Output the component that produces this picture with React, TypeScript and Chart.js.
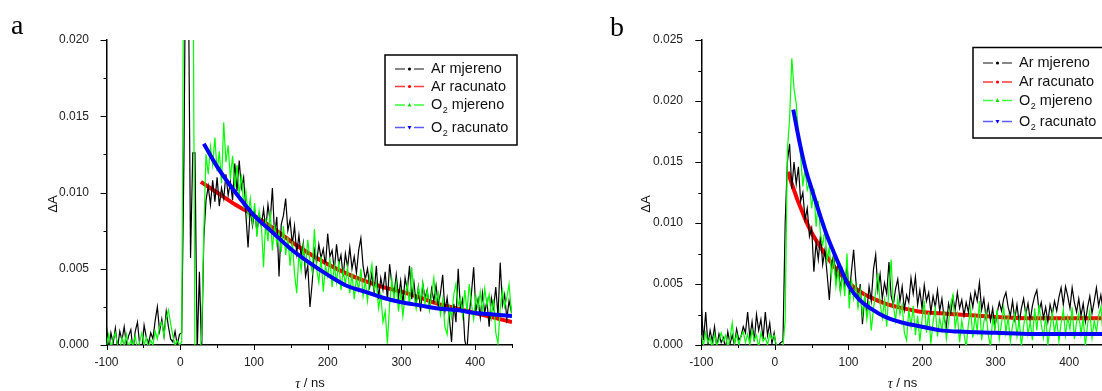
import React, { useEffect, useRef } from "react";
import { Chart, registerables } from "chart.js";

Chart.register(...registerables);

// ---------- data ----------
const TIME = [
  -100, -97, -94, -91, -88, -85, -82, -79, -76, -73,
  -70, -67, -64, -61, -58, -55, -52, -49, -46, -43,
  -40, -37, -34, -31, -28, -25, -22, -19, -16, -13,
  -10, -7, -4, -1, 2, 5, 8, 11, 14, 17,
  20, 23, 26, 29, 32, 35, 38, 41, 44, 47,
  50, 53, 56, 59, 62, 65, 68, 71, 74, 77,
  80, 83, 86, 89, 92, 95, 98, 101, 104, 107,
  110, 113, 116, 119, 122, 125, 128, 131, 134, 137,
  140, 143, 146, 149, 152, 155, 158, 161, 164, 167,
  170, 173, 176, 179, 182, 185, 188, 191, 194, 197,
  200, 203, 206, 209, 212, 215, 218, 221, 224, 227,
  230, 233, 236, 239, 242, 245, 248, 251, 254, 257,
  260, 263, 266, 269, 272, 275, 278, 281, 284, 287,
  290, 293, 296, 299, 302, 305, 308, 311, 314, 317,
  320, 323, 326, 329, 332, 335, 338, 341, 344, 347,
  350, 353, 356, 359, 362, 365, 368, 371, 374, 377,
  380, 383, 386, 389, 392, 395, 398, 401, 404, 407,
  410, 413, 416, 419, 422, 425, 428, 431, 434, 437,
  440, 443, 446, 449, 452,
];

// panel a – Ar measured
const AR_A = [
  0.0012, -0.0003, 0.0008, 0.0001, 0.0011, -0.0002, 0.0009, 0.0003, 0.0012, 0.0,
  0.0006, 0.001, -0.0004, 0.0009, 0.0015, 0.0, -0.0003, 0.0013, 0.0005, 0.0001,
  0.0008, 0.0004, 0.0016, 0.0025, 0.0009, 0.0017, 0.0006, 0.0022, 0.0012, 0.0004,
  0.0002, 0.0009, 0.0, 0.0007, 0.0008, 0.012, 0.03, 0.025, 0.0057, 0.0126,
  0.0126, -0.0005, 0.0048, -0.0005, 0.007, 0.0095, 0.0104, 0.0092, 0.0108, 0.0094,
  0.011, 0.0091, 0.0103, 0.0096, 0.0112, 0.0098, 0.0107, 0.0095, 0.0119, 0.0101,
  0.0121, 0.0103, 0.011, 0.0086, 0.0064, 0.009, 0.0078, 0.0088, 0.0074, 0.0085,
  0.0078, 0.0089, 0.0076, 0.0092, 0.0081, 0.0103, 0.0072, 0.0084, 0.0045, 0.0079,
  0.0085, 0.0096, 0.0075, 0.0082, 0.0066, 0.0078, 0.006, 0.0072, 0.0058, 0.0067,
  0.0045, 0.0052, 0.0025, 0.0041, 0.0062, 0.0054, 0.0066, 0.0057, 0.0063, 0.0052,
  0.0073, 0.0058, 0.0062, 0.0049, 0.0066, 0.0053, 0.0059, 0.0045, 0.006, 0.0051,
  0.0064, 0.005, 0.0058, 0.0047, 0.0062, 0.007, 0.0052, 0.0043, 0.005, 0.0038,
  0.0047, 0.0034, 0.0052, 0.003, 0.0044, 0.0036, 0.0048, 0.0029, 0.0053, 0.004,
  0.0033, 0.0046, 0.0031, 0.0042, 0.0027, 0.0044, 0.0036, 0.0052, 0.003, 0.0041,
  0.0027, 0.0038, 0.0022, 0.004, 0.0031, 0.0036, 0.0024, 0.0037, 0.0029, 0.0039,
  0.0026, 0.0034, 0.0046, 0.0022, 0.0031, 0.0018, 0.0002, 0.0027, 0.0015, 0.005,
  0.0024, 0.003, 0.0003, -0.0003, 0.002, 0.0034, 0.0051, 0.0022, 0.003, 0.0018,
  0.0034, 0.0021, 0.0029, 0.0012, 0.0031, 0.0024, 0.0038, 0.0019, 0.0054, 0.0026,
  0.0033, 0.0017, 0.0029, 0.0022, 0.0027,
];

// panel a – O2 measured
const O2_A = [
  0.0, 0.0007, -0.0002, 0.0004, 0.0008, 0.0, -0.0003, 0.0005, 0.0, 0.0007,
  -0.0002, 0.0003, 0.0, 0.0006, -0.0004, 0.0002, 0.0008, 0.0, 0.0005, -0.0002,
  0.0003, 0.0, 0.0009, 0.0004, 0.0012, 0.0015, 0.0006, 0.0018, 0.0023, 0.0014,
  0.0006, 0.0, 0.0003, 0.0, 0.0002, 0.03, 0.025, 0.022, 0.03, 0.03,
  -0.001, -0.001, -0.0008, 0.0005, 0.0075, 0.0125, 0.0112, 0.013, 0.0118, 0.0136,
  0.0114, 0.0127, 0.0106, 0.0146, 0.012, 0.0131, 0.0109, 0.0124, 0.0103, 0.0118,
  0.0098, 0.0112, 0.0092, 0.0101, 0.0085, 0.0096, 0.008, 0.0093, 0.0071, 0.0088,
  0.0079, 0.0051, 0.0083, 0.0068, 0.0088, 0.0062, 0.0079, 0.0066, 0.0074, 0.0061,
  0.0078, 0.0059, 0.0071, 0.0052, 0.0068, 0.0047, 0.0034, 0.006, 0.0049, 0.0065,
  0.0052, 0.0069, 0.0055, 0.0048, 0.0076, 0.005, 0.0041, 0.0058, 0.0035, 0.0052,
  0.0045, 0.0057, 0.0038, 0.0052, 0.0041, 0.0055, 0.0036, 0.0049, 0.004, 0.0051,
  0.0034, 0.0047, 0.003, 0.0044, 0.0036, 0.005, 0.0032, 0.0042, 0.0029, 0.0045,
  0.0053, 0.0036, 0.0041, 0.0024, 0.0033, 0.0015, 0.0022, 0.0001, 0.0027, 0.0043,
  0.003, 0.0041, 0.0022, 0.0035, 0.0019, 0.0032, 0.004, 0.0026, 0.0051, 0.0033,
  0.0024, 0.0038, 0.0029, 0.0041, 0.0027, 0.0036, 0.0023, 0.0033, 0.0044, 0.0028,
  0.0034, 0.002, 0.003, 0.0012, 0.0007, 0.0025, 0.0018, 0.0033, 0.004, 0.0026,
  0.0031, 0.0019, 0.0036, 0.0022, 0.004, 0.0027, 0.0017, 0.0032, 0.0024, 0.0035,
  0.0021, 0.0037, 0.0026, 0.0033, 0.0018, 0.003, 0.0008, 0.0001, 0.0024, 0.0036,
  0.0025, 0.0031, 0.004, 0.0022, 0.003,
];

// panel a – fits
const AR_FIT_A_T = [28, 50, 75, 100, 125, 150, 175, 200, 225, 250, 275, 300, 325, 350, 375, 400, 425, 450];
const AR_FIT_A = [0.0107, 0.01, 0.0092, 0.0085, 0.0077, 0.0068, 0.006, 0.0053, 0.0047, 0.0042, 0.0038, 0.0035, 0.0031, 0.0027, 0.0024, 0.0021, 0.0018, 0.0015];
const O2_FIT_A_T = [32, 50, 75, 100, 125, 150, 175, 200, 225, 250, 275, 300, 325, 350, 375, 400, 425, 450];
const O2_FIT_A = [0.0132, 0.0117, 0.01, 0.0085, 0.0074, 0.0063, 0.0054, 0.0046, 0.0039, 0.0035, 0.0031, 0.0028, 0.0026, 0.0024, 0.0023, 0.0021, 0.002, 0.0019];

// panel b – Ar measured
const AR_B = [
  0.0031, 0.0004, 0.0027, 0.0, 0.0012, 0.0003, 0.0015, -0.0002, 0.0009, 0.0002,
  0.0006, -0.0003, 0.0011, 0.0001, 0.0008, 0.0, 0.0013, 0.0004, 0.0007, 0.0015,
  0.001, 0.0027, 0.0006, 0.0019, 0.0003, 0.0025, 0.0012, 0.0021, 0.0005, 0.0027,
  0.0008, 0.0018, 0.0001, 0.001, -0.0003, 0.0, 0.0002, 0.0003, 0.01, 0.015,
  0.0165, 0.0128, 0.015, 0.0132, 0.0146, 0.0118, 0.0125, 0.0103, 0.0112, 0.0089,
  0.0096, 0.006, 0.0084, 0.007, 0.009, 0.0066, 0.0078, 0.0058, 0.0037, 0.0064,
  0.0075, 0.0052, 0.0068, 0.0044, 0.0061, 0.0049, 0.0066, 0.0041, 0.006, 0.0078,
  0.0053, 0.0034, 0.005, 0.0017, 0.0039, 0.0028, 0.0048, 0.0036, 0.0062, 0.0074,
  0.0045, 0.0058, 0.0038, 0.0051, 0.0042, 0.0068, 0.004, 0.0033, 0.0046, 0.0054,
  0.0036, 0.0048, 0.0029, 0.0041, 0.0035, 0.0055, 0.0042, 0.0056, 0.0033, 0.0045,
  0.003, 0.0049, 0.0036, 0.0043, 0.0027, 0.004, 0.0031, 0.0045, 0.0028, 0.0038,
  0.0022, 0.0015, 0.0034, 0.0026, 0.0039, 0.0029, 0.0043, 0.003, 0.0037, 0.0024,
  0.0035, 0.0027, 0.0041, 0.0031, 0.0044, 0.0036, 0.0051, 0.0029, 0.0038, 0.0022,
  0.0033, 0.002, 0.003, 0.0014, 0.0026, 0.0035, 0.0028, 0.0038, 0.0043, 0.0031,
  0.0024, 0.0036, 0.0021, 0.0033, 0.0018, 0.003, 0.0038, 0.0025, 0.0034, 0.002,
  0.0032, 0.004, 0.0045, 0.0028, 0.0035, 0.0022, 0.0031, 0.0019, 0.0033, 0.0025,
  0.0036, 0.0028, 0.0039, 0.0047, 0.0033, 0.0048, 0.004, 0.003, 0.0047, 0.0035,
  0.0027, 0.0038, 0.0024, 0.0034, 0.0019, 0.0031, 0.004, 0.0026, 0.0036, 0.0047,
  0.0032, 0.0041, 0.0028, 0.0036, 0.003,
];

// panel b – O2 measured
const O2_B = [
  0.0008, 0.0, 0.001, 0.0002, 0.0006, -0.0003, 0.0009, 0.0, 0.0004, 0.001,
  0.0003, 0.0008, -0.0002, 0.0005, 0.0018, 0.0001, 0.0009, 0.0, 0.0007, 0.0011,
  0.0002, 0.0009, 0.0, 0.0012, 0.0004, 0.0008, -0.0002, 0.001, 0.0003, 0.0006,
  0.0, 0.0009, 0.0005, 0.0008, 0.0, -0.0003, -0.0002, -0.0001, 0.002, 0.016,
  0.0185, 0.0235, 0.021, 0.0198, 0.0172, 0.0155, 0.013, 0.0145, 0.0127, 0.0133,
  0.0112, 0.0128, 0.0097, 0.0118, 0.009, 0.0082, 0.0095, 0.0069, 0.008, 0.0058,
  0.0071, 0.0048, 0.0062, 0.0043, 0.0058, 0.004, 0.0075, 0.003, 0.0054, 0.0038,
  0.0049, 0.0031, 0.0045, 0.0025, 0.004, 0.0021, 0.0036, 0.0012, 0.003, 0.0043,
  0.0059, 0.0034, 0.0022, 0.0037, 0.0015, 0.0046, 0.007, 0.0032, 0.002, 0.0038,
  0.0025, 0.0033, 0.001, 0.0004, 0.0029, 0.0015, 0.0032, 0.0008, 0.0024, 0.0003,
  0.0021, 0.0036, 0.001, 0.0027, 0.0001, 0.0019, 0.003, 0.0007, 0.0022, 0.0012,
  0.0028, 0.0005, 0.0018, 0.0034, 0.0041, 0.0014, 0.0025, 0.0002, 0.002, 0.0009,
  -0.0002, 0.0017, 0.003, 0.0006, 0.0024, 0.0011, 0.0036, 0.0004, 0.0019, 0.0027,
  0.0008, -0.0001, 0.0022, 0.0013, 0.0029, 0.0005, 0.0018, 0.0031, 0.001, 0.0023,
  0.0003, 0.0016, 0.0026, 0.0007, 0.0021, -0.0001, 0.0015, 0.0028, 0.0009, 0.0019,
  0.0004, 0.003, 0.0012, 0.0033, 0.0017, 0.0006, 0.0024, 0.0, 0.0014, 0.0027,
  0.001, 0.0021, 0.0003, 0.0018, 0.0029, 0.0008, 0.0023, 0.0013, 0.0031, 0.0005,
  0.0019, 0.0026, 0.0009, 0.0022, -0.0001, 0.0017, 0.0028, 0.0006, 0.002, 0.0011,
  0.0024, 0.0031, 0.0008, 0.0019, 0.0014,
];

// panel b – fits
const AR_FIT_B_T = [18, 22, 26, 30, 34, 42, 50, 60, 70, 85, 100, 115, 130, 150, 175, 200, 225, 250, 300, 350, 400, 450];
const AR_FIT_B = [0.0142, 0.0134, 0.0127, 0.012, 0.0114, 0.0102, 0.0092, 0.0082, 0.0073, 0.0061, 0.0051, 0.0044, 0.0039, 0.0034, 0.003, 0.0027, 0.0026, 0.0025, 0.0023, 0.0022, 0.0022, 0.0022];
const O2_FIT_B_T = [25, 30, 35, 41, 50, 60, 70, 80, 90, 100, 115, 130, 150, 175, 200, 225, 250, 300, 350, 400, 450];
const O2_FIT_B = [0.0193, 0.0177, 0.0162, 0.0146, 0.0128, 0.0109, 0.0091, 0.0076, 0.0062, 0.0049, 0.0037, 0.003, 0.0023, 0.0018, 0.0015, 0.0012, 0.0011, 0.001, 0.0009, 0.0009, 0.0009];

const X_MIN = -100;
const X_MAX = 450;
const X_STEP = 100;
const Y_STEP = 0.005;
const Y_MAX_A = 0.02;
const Y_MAX_B = 0.025;

const LEGEND_ITEMS = [
  { main: "Ar mjereno", sub: "", rest: "", line: "#606060", mark: "#000000", shape: "circle" },
  { main: "Ar racunato", sub: "", rest: "", line: "#ff3a3a", mark: "#ff0000", shape: "circle" },
  { main: "O", sub: "2", rest: " mjereno", line: "#3cff3c", mark: "#00dd00", shape: "up" },
  { main: "O", sub: "2", rest: " racunato", line: "#5a5aff", mark: "#0000ff", shape: "down" },
];

// ---------- layout ----------
const W = 560;
const H = 391;
const SANS = '"Liberation Sans", Arial, Helvetica, sans-serif';
const SERIF = '"Liberation Serif", "Times New Roman", serif';

type Panel = {
  letter: string;
  yMax: number;
  ar: number[];
  o2: number[];
  arFitT: number[];
  arFit: number[];
  o2FitT: number[];
  o2Fit: number[];
  area: { left: number; right: number; top: number; bottom: number };
  yLabelRight: number;
  legend: { x: number; y: number; w: number; h: number; rows: number[] };
  letterPos: { x: number; y: number };
  yTitle: { x: number; y: number };
  xTitle: { x: number; y: number };
};

const PANEL_A: Panel = {
  letter: "a",
  yMax: Y_MAX_A,
  ar: AR_A,
  o2: O2_A,
  arFitT: AR_FIT_A_T,
  arFit: AR_FIT_A,
  o2FitT: O2_FIT_A_T,
  o2Fit: O2_FIT_A,
  area: { left: 106.5, right: 512, top: 40, bottom: 345 },
  yLabelRight: 97,
  legend: { x: 385, y: 55, w: 132, h: 90, rows: [14, 31.5, 50, 72.5] },
  letterPos: { x: 11, y: 34 },
  yTitle: { x: 53, y: 204 },
  xTitle: { x: 310, y: 383 },
};

const PANEL_B: Panel = {
  letter: "b",
  yMax: Y_MAX_B,
  ar: AR_B,
  o2: O2_B,
  arFitT: AR_FIT_B_T,
  arFit: AR_FIT_B,
  o2FitT: O2_FIT_B_T,
  o2Fit: O2_FIT_B,
  area: { left: 141.3, right: 546, top: 40, bottom: 345 },
  yLabelRight: 131,
  legend: { x: 413, y: 47.5, w: 160, h: 90.5, rows: [15.5, 34.5, 53, 74] },
  letterPos: { x: 50, y: 36 },
  yTitle: { x: 86, y: 204 },
  xTitle: { x: 342.5, y: 383 },
};

function makeDecor(p: Panel) {
  return {
    id: "decor" + p.letter,
    afterDraw(chart: any) {
      const ctx: CanvasRenderingContext2D = chart.ctx;
      const xs = chart.scales.x;
      const ys = chart.scales.y;
      const a = chart.chartArea;
      ctx.save();

      // tick marks (major + minor)
      ctx.strokeStyle = "#000";
      ctx.lineWidth = 1;
      ctx.beginPath();
      const xv: number[] = xs.ticks.map((t: any) => t.value);
      const xStep = xv[1] - xv[0];
      for (const v of xv) {
        const px = Math.round(xs.getPixelForValue(v)) + 0.5;
        ctx.moveTo(px, a.bottom);
        ctx.lineTo(px, a.bottom + 5);
        const m = v + xStep / 2;
        if (m <= xs.max + 1e-9) {
          const pm = Math.round(xs.getPixelForValue(m)) + 0.5;
          ctx.moveTo(pm, a.bottom);
          ctx.lineTo(pm, a.bottom + 3);
        }
      }
      const yv: number[] = ys.ticks.map((t: any) => t.value);
      const yStep = yv[1] - yv[0];
      for (const v of yv) {
        const py = Math.round(ys.getPixelForValue(v)) + 0.5;
        ctx.moveTo(a.left, py);
        ctx.lineTo(a.left - 6, py);
        const m = v + yStep / 2;
        if (m <= ys.max + 1e-9) {
          const pm = Math.round(ys.getPixelForValue(m)) + 0.5;
          ctx.moveTo(a.left, pm);
          ctx.lineTo(a.left - 3, pm);
        }
      }
      ctx.stroke();

      // panel letter
      ctx.fillStyle = "#000";
      ctx.font = `28px ${SERIF}`;
      ctx.textAlign = "left";
      ctx.textBaseline = "alphabetic";
      ctx.fillText(p.letter, p.letterPos.x, p.letterPos.y);

      // y title
      ctx.save();
      ctx.translate(p.yTitle.x, p.yTitle.y);
      ctx.rotate(-Math.PI / 2);
      ctx.font = `13px ${SANS}`;
      ctx.textAlign = "center";
      ctx.textBaseline = "middle";
      ctx.fillStyle = "#111";
      ctx.fillText("\u0394A", 0, 0);
      ctx.restore();

      // x title: italic tau + " / ns"
      ctx.textBaseline = "middle";
      ctx.textAlign = "left";
      const tauFont = `italic 14px ${SERIF}`;
      const restFont = `13px ${SANS}`;
      ctx.font = tauFont;
      const wTau = ctx.measureText("\u03c4").width;
      ctx.font = restFont;
      const wRest = ctx.measureText(" / ns").width;
      const tx = p.xTitle.x - (wTau + wRest) / 2;
      ctx.fillStyle = "#111";
      ctx.font = tauFont;
      ctx.fillText("\u03c4", tx, p.xTitle.y + 1);
      ctx.font = restFont;
      ctx.fillText(" / ns", tx + wTau, p.xTitle.y);

      // legend
      const L = p.legend;
      ctx.fillStyle = "#fff";
      ctx.fillRect(L.x, L.y, L.w, L.h);
      ctx.strokeStyle = "#000";
      ctx.lineWidth = 1.5;
      ctx.strokeRect(L.x, L.y, L.w, L.h);
      LEGEND_ITEMS.forEach((it, i) => {
        const yy = L.y + L.rows[i];
        ctx.strokeStyle = it.line;
        ctx.lineWidth = 1.3;
        ctx.beginPath();
        ctx.moveTo(L.x + 10, yy);
        ctx.lineTo(L.x + 20, yy);
        ctx.moveTo(L.x + 29, yy);
        ctx.lineTo(L.x + 39, yy);
        ctx.stroke();
        ctx.fillStyle = it.mark;
        const mx = L.x + 24.5;
        ctx.beginPath();
        if (it.shape === "circle") {
          ctx.arc(mx, yy, 1.6, 0, Math.PI * 2);
        } else if (it.shape === "up") {
          ctx.moveTo(mx, yy - 2.2);
          ctx.lineTo(mx + 2, yy + 1.6);
          ctx.lineTo(mx - 2, yy + 1.6);
          ctx.closePath();
        } else {
          ctx.moveTo(mx, yy + 2.2);
          ctx.lineTo(mx + 2, yy - 1.6);
          ctx.lineTo(mx - 2, yy - 1.6);
          ctx.closePath();
        }
        ctx.fill();

        ctx.fillStyle = "#111";
        ctx.textAlign = "left";
        ctx.textBaseline = "middle";
        const mainFont = `14.5px ${SANS}`;
        ctx.font = mainFont;
        let x0 = L.x + 46;
        ctx.fillText(it.main, x0, yy);
        x0 += ctx.measureText(it.main).width;
        if (it.sub) {
          ctx.font = `9px ${SANS}`;
          ctx.fillText(it.sub, x0 + 0.5, yy + 6);
          x0 += ctx.measureText(it.sub).width + 0.5;
          ctx.font = mainFont;
          ctx.fillText(it.rest, x0, yy);
        }
      });

      ctx.restore();
    },
  };
}

function buildConfig(p: Panel): any {
  const arFitPts = p.arFitT.map((t, i) => ({ x: t, y: p.arFit[i] }));
  const o2FitPts = p.o2FitT.map((t, i) => ({ x: t, y: p.o2Fit[i] }));
  return {
    type: "line",
    data: {
      labels: TIME,
      datasets: [
        {
          label: "O2 racunato",
          data: o2FitPts,
          borderColor: "#0000ff",
          borderWidth: 4,
          cubicInterpolationMode: "monotone",
          order: 0,
        },
        {
          label: "O2 mjereno",
          data: p.o2,
          borderColor: "#00ff00",
          borderWidth: 1.2,
          order: 1,
        },
        {
          label: "Ar mjereno",
          data: p.ar,
          borderColor: "#000000",
          borderWidth: 1.2,
          order: 2,
        },
        {
          label: "Ar racunato",
          data: arFitPts,
          borderColor: "#ff0000",
          borderWidth: 4,
          cubicInterpolationMode: "monotone",
          order: 3,
        },
      ],
    },
    options: {
      responsive: false,
      animation: false,
      devicePixelRatio: 1,
      events: [],
      layout: {
        padding: { left: 0, top: p.area.top, right: W - p.area.right, bottom: 0 },
      },
      elements: {
        point: { radius: 0 },
        line: { tension: 0, fill: false },
      },
      plugins: {
        legend: { display: false },
        tooltip: { enabled: false },
        title: { display: false },
      },
      scales: {
        x: {
          type: "linear",
          min: X_MIN,
          max: X_MAX,
          grid: { display: false },
          border: { display: true, color: "#000", width: 1.5 },
          ticks: {
            stepSize: X_STEP,
            includeBounds: false,
            autoSkip: false,
            maxRotation: 0,
            padding: 2,
            color: "#222",
            font: { family: SANS, size: 12 },
            callback: (v: any) => String(v),
          },
          afterFit: (s: any) => {
            s.height = H - p.area.bottom;
          },
        },
        y: {
          type: "linear",
          min: 0,
          max: p.yMax,
          grid: { display: false },
          border: { display: true, color: "#000", width: 1.5 },
          ticks: {
            stepSize: Y_STEP,
            padding: p.area.left - p.yLabelRight,
            color: "#222",
            font: { family: SANS, size: 12 },
            callback: (v: any) => Number(v).toFixed(3),
          },
          afterFit: (s: any) => {
            s.width = p.area.left;
          },
        },
      },
    },
    plugins: [makeDecor(p)],
  };
}

function PanelChart({ panel, left }: { panel: Panel; left: number }) {
  const ref = useRef<HTMLCanvasElement>(null);
  useEffect(() => {
    if (!ref.current) return;
    const chart = new Chart(ref.current, buildConfig(panel));
    return () => chart.destroy();
  }, [panel]);
  return (
    <canvas
      ref={ref}
      width={W}
      height={H}
      style={{ position: "absolute", left, top: 0, width: W, height: H }}
    />
  );
}

export default function App() {
  return (
    <div
      style={{
        position: "fixed",
        left: 0,
        top: 0,
        width: 1102,
        height: 391,
        overflow: "hidden",
        background: "#fff",
      }}
    >
      <PanelChart panel={PANEL_A} left={0} />
      <PanelChart panel={PANEL_B} left={560} />
    </div>
  );
}
